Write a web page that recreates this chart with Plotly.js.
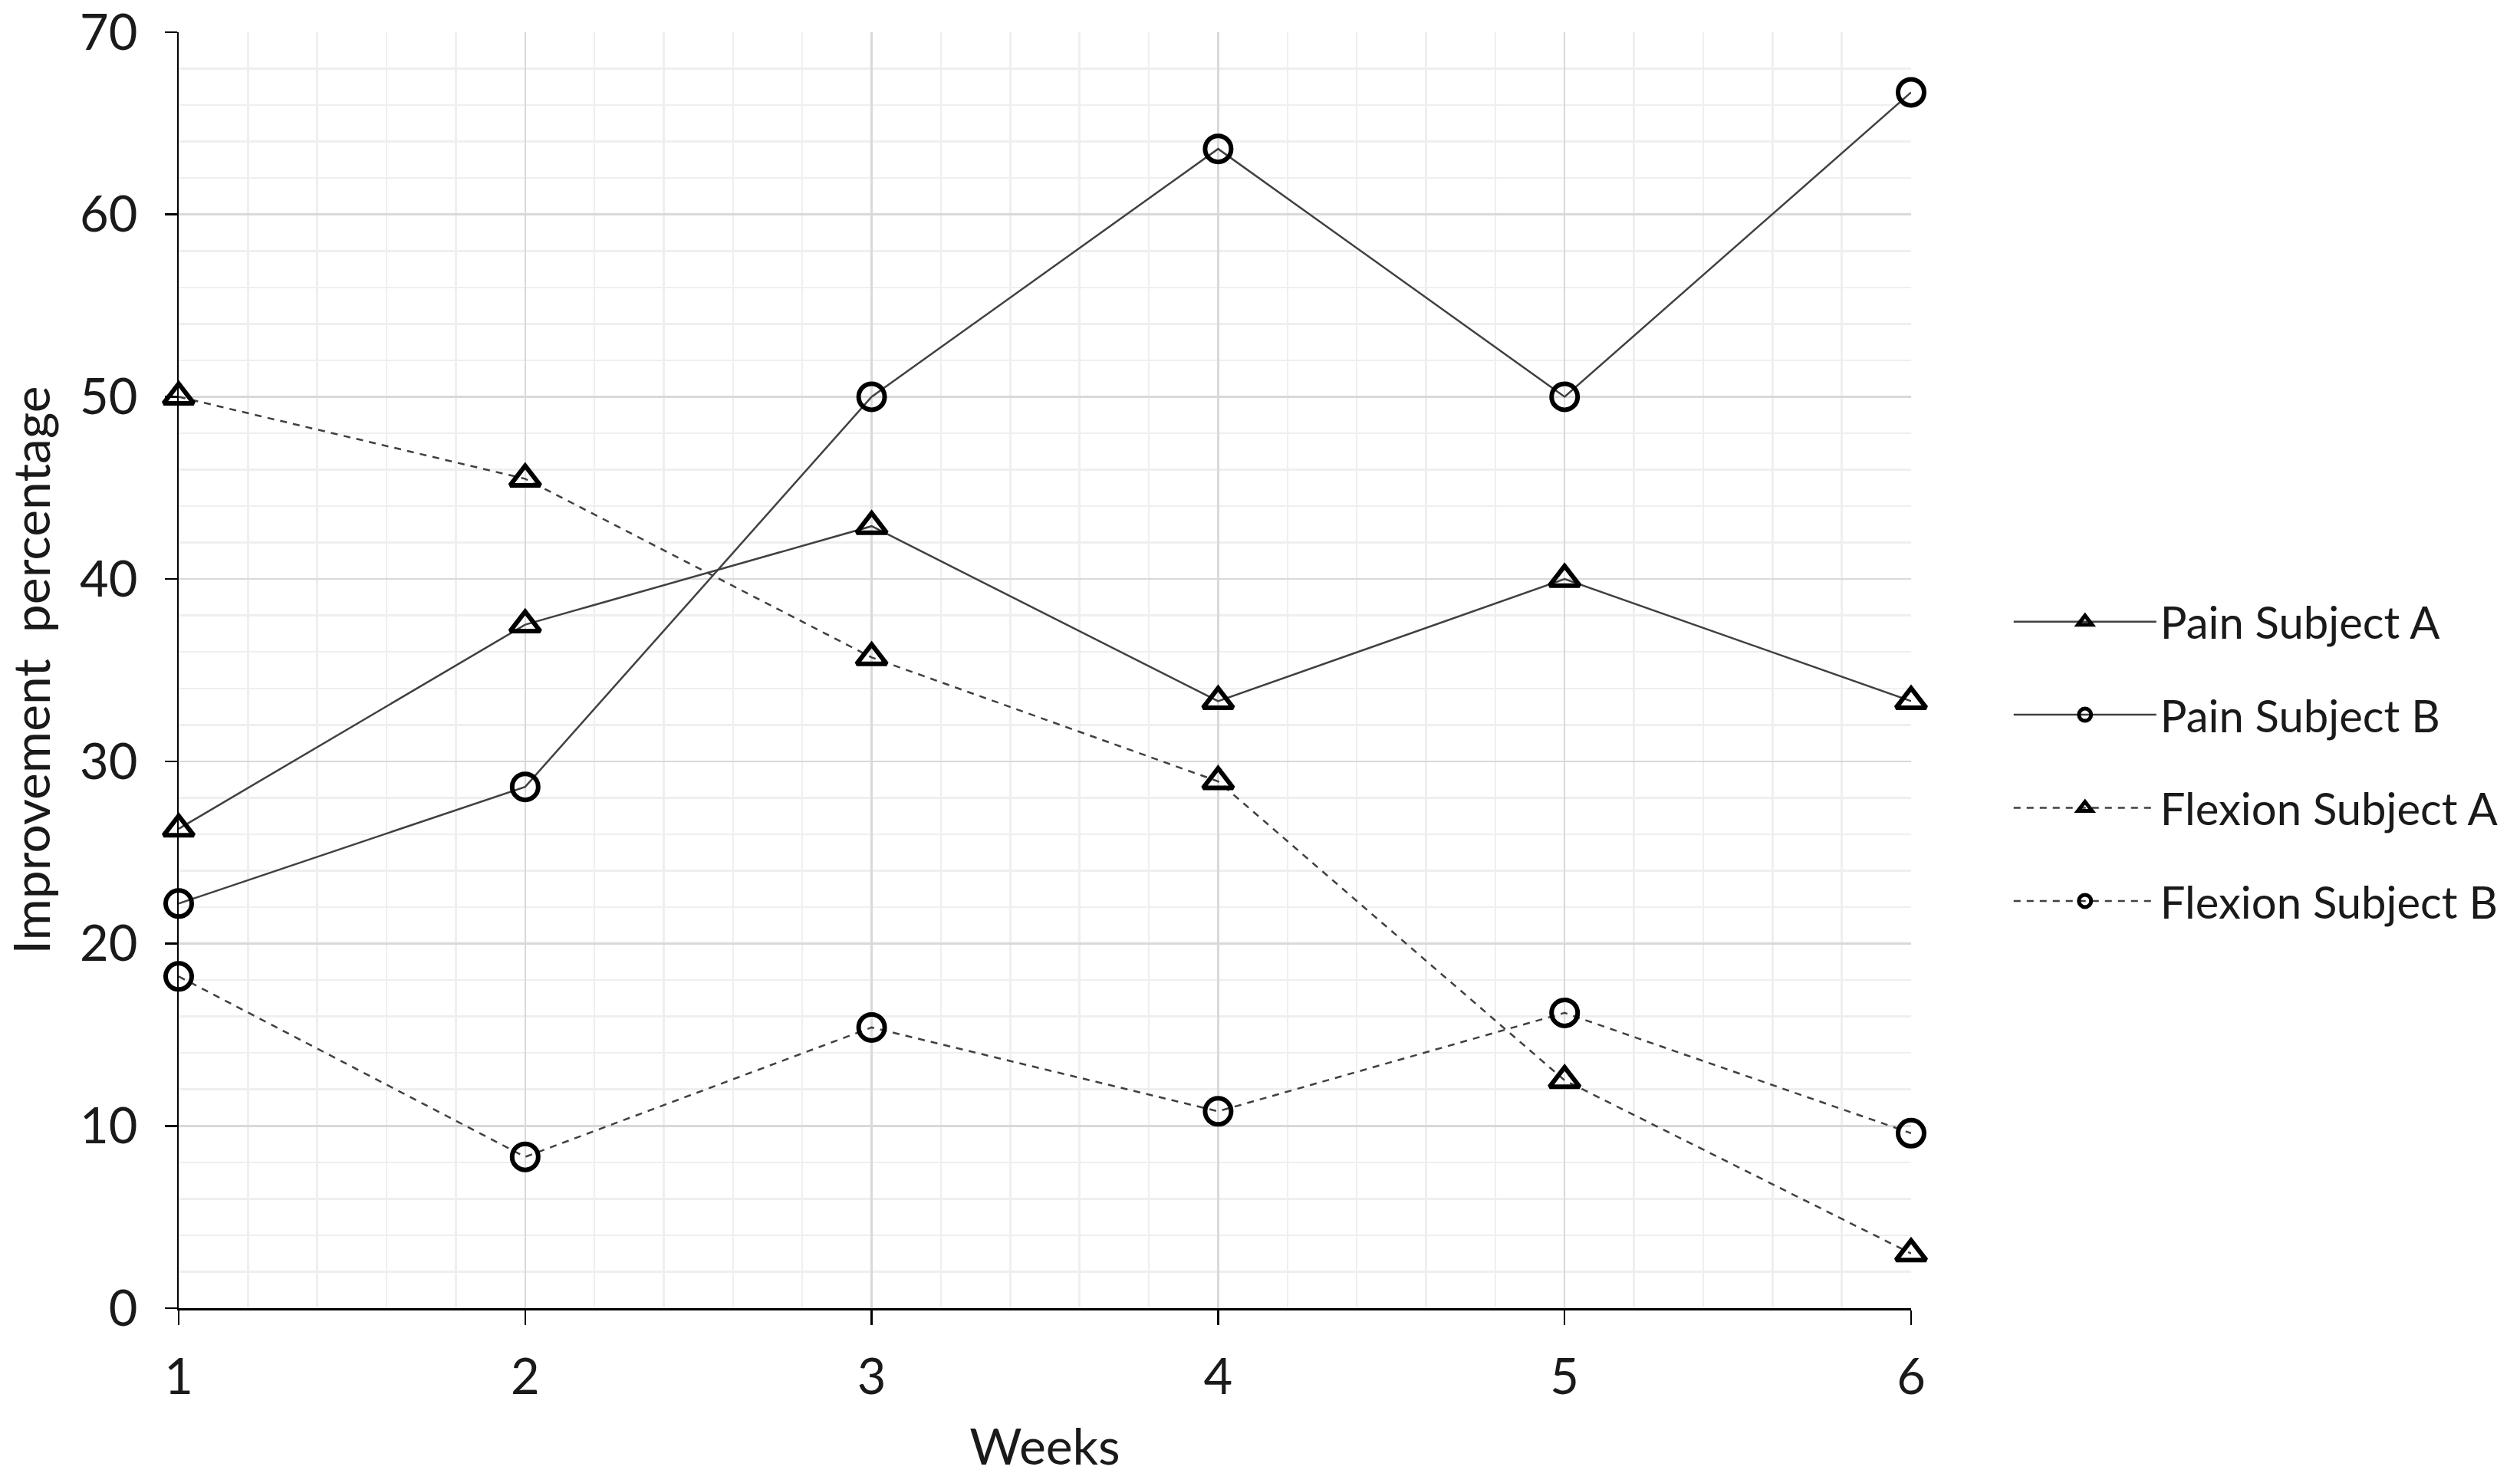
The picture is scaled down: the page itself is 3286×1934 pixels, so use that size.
<!DOCTYPE html>
<html>
<head>
<meta charset="utf-8">
<script src="https://cdn.plot.ly/plotly-3.0.1.min.js"></script>
<style>
  html, body { margin: 0; padding: 0; background: #fff; }
  #chart { width: 3286px; height: 1934px; }
</style>
</head>
<body>
<div id="chart"></div>
<script>
// weeks on the x axis
var weeks = [1, 2, 3, 4, 5, 6];

// improvement percentage per week
var painA = [26.3, 37.5, 42.9, 33.3, 40.0, 33.3];
var painB = [22.2, 28.6, 50.0, 63.6, 50.0, 66.7];
var flexA = [50.0, 45.5, 35.7, 28.9, 12.5, 3.0];
var flexB = [18.2, 8.3, 15.4, 10.8, 16.2, 9.6];

var seriesNames = ['Pain Subject A', 'Pain Subject B', 'Flexion Subject A', 'Flexion Subject B'];

var FONT = 'Lato, "Open Sans", sans-serif';
var TXT = '#1a1a1a';

function series(name, y, symbol, dash) {
    return {
        type: 'scatter',
        mode: 'lines+markers',
        name: name,
        legendgroup: name,
        x: weeks,
        y: y,
        cliponaxis: false,
        line: {color: '#404040', width: 2.5, dash: dash},
        marker: {
            symbol: symbol,
            size: 34,
            color: '#000',
            line: {color: '#000', width: 6}
        }
    };
}

var data = [
    series(seriesNames[0], painA, 'triangle-up-open', 'solid'),
    series(seriesNames[1], painB, 'circle-open', 'solid'),
    series(seriesNames[2], flexA, 'triangle-up-open', '9px,8px'),
    series(seriesNames[3], flexB, 'circle-open', '9px,8px')
];

var layout = {
    width: 3286,
    height: 1934,
    margin: {l: 233, r: 794, t: 42, b: 228},
    paper_bgcolor: '#fff',
    plot_bgcolor: '#fff',
    font: {family: FONT, size: 60, color: TXT},
    showlegend: true,
    legend: {
        x: 1.057, y: 0.4285,
        xanchor: 'left', yanchor: 'middle',
        font: {family: FONT, size: 58, color: TXT},
        traceorder: 'grouped',
        itemwidth: 186,
        tracegroupgap: 43,
        borderwidth: 0,
        bgcolor: 'rgba(0,0,0,0)'
    },
    xaxis: {
        range: [1, 6],
        tickvals: weeks,
        ticks: 'outside', ticklen: 19, tickwidth: 2.5, tickcolor: '#000',
        ticklabelstandoff: 12,
        tickfont: {family: FONT, size: 65, color: TXT},
        showline: true, linecolor: '#000', linewidth: 2.5,
        showgrid: true, gridcolor: '#d9d9d9', gridwidth: 2.5,
        minor: {dtick: 0.2, showgrid: true, gridcolor: '#efefef', gridwidth: 2.5},
        zeroline: false,
        title: {text: 'Weeks', font: {family: FONT, size: 66, color: TXT}, standoff: 34}
    },
    yaxis: {
        range: [0, 70],
        dtick: 10,
        ticks: 'outside', ticklen: 16, tickwidth: 2.5, tickcolor: '#000',
        ticklabelstandoff: 22,
        tickfont: {family: FONT, size: 65, color: TXT},
        showline: true, linecolor: '#000', linewidth: 2.5,
        showgrid: true, gridcolor: '#d9d9d9', gridwidth: 2.5,
        minor: {dtick: 2, showgrid: true, gridcolor: '#efefef', gridwidth: 2.5},
        zeroline: false,
        title: {text: 'Improvement&nbsp;&nbsp;percentage', font: {family: FONT, size: 66, color: TXT}, standoff: 22}
    }
};

Plotly.newPlot('chart', data, layout, {staticPlot: true});
</script>
</body>
</html>
